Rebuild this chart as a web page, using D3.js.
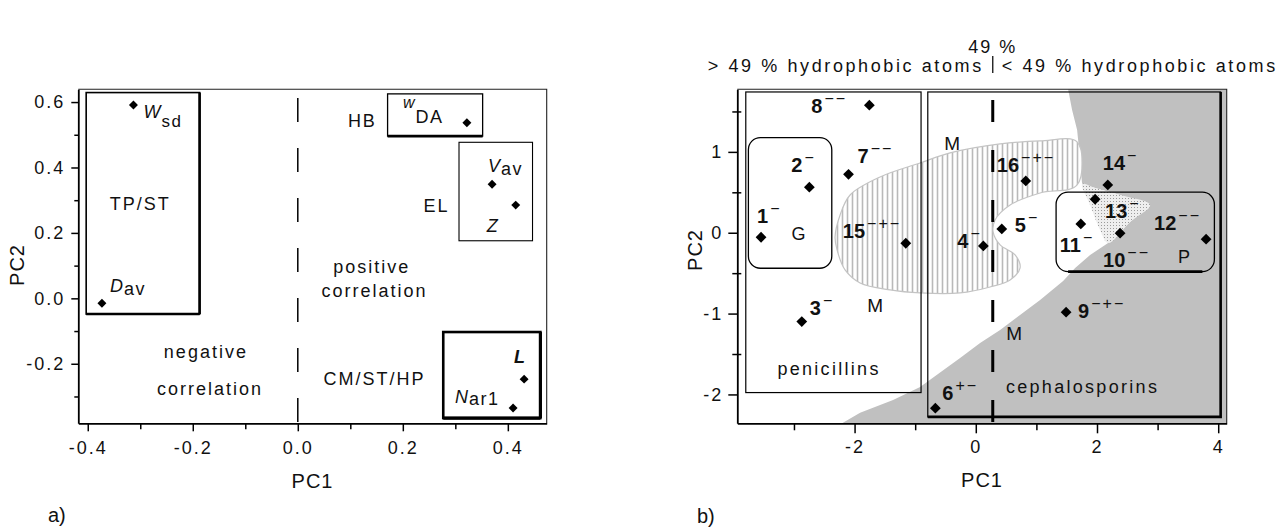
<!DOCTYPE html>
<html>
<head>
<meta charset="utf-8">
<script src="https://cdn.jsdelivr.net/npm/d3@7"></script>
<style>
	body { margin: 0; background: #fff; }
	svg { display: block; }
	text { font-family: "Liberation Sans", Arial, sans-serif; fill: #111; }
</style>
</head>
<body>
<svg id="fig" width="1281" height="528"></svg>
<script>
// ---------- panel a) : loadings ----------
const aNames = ["Wsd", "Dav", "wDA", "Vav", "Z", "L", "Nar1"];
const aMain = ["W", "D", "w", "V", "Z", "L", "N"];
const aSub = ["sd", "av", "DA", "av", "", "", "ar1"];
const aPC1 = [-0.313, -0.373, 0.322, 0.370, 0.415, 0.431, 0.410];
const aPC2 = [0.591, -0.015, 0.537, 0.349, 0.285, -0.247, -0.335];

const aTicksX = [-0.4, -0.2, 0.0, 0.2, 0.4];
const aMinorX = [-0.3, -0.1, 0.1, 0.3];
const aTicksY = [-0.2, 0.0, 0.2, 0.4, 0.6];
const aMinorY = [-0.3, -0.1, 0.1, 0.3, 0.5];

// group boxes (pc1 from/to, pc2 from/to)
const aBoxX0 = [-0.403, 0.171, 0.307, 0.277];
const aBoxX1 = [-0.187, 0.352, 0.447, 0.462];
const aBoxY0 = [-0.048, 0.496, 0.176, -0.366];
const aBoxY1 = [0.629, 0.625, 0.477, -0.103];

const aNotes = ["TP/ST", "HB", "EL", "positive", "correlation", "negative", "correlation", "CM/ST/HP"];
const aNoteX = [-0.300, 0.123, 0.264, 0.141, 0.146, -0.175, -0.167, 0.146];
const aNoteY = [0.270, 0.524, 0.265, 0.077, 0.004, -0.183, -0.296, -0.265];
const aSplit = 0.0;

// ---------- panel b) : scores ----------
const bIds = ["1", "2", "3", "4", "5", "6", "7", "8", "9", "10", "11", "12", "13", "14", "15", "16"];
const bSigns = ["−", "−", "−", "−", "−", "+−", "−−", "−−", "−+−", "−−", "−", "−−", "−", "−", "−+−", "−+−"];
const bPC1 = [-3.543, -2.746, -2.871, 0.125, 0.429, -0.667, -2.10, -1.756, 1.49, 2.381, 1.733, 3.80, 1.969, 2.178, -1.155, 0.825];
const bPC2 = [-0.056, 0.563, -1.099, -0.163, 0.047, -2.170, 0.723, 1.577, -0.983, -0.006, 0.109, -0.08, 0.414, 0.591, -0.130, 0.641];

const bTicksX = [-2, 0, 2, 4];
const bMinorX = [-3, -1, 1, 3];
const bTicksY = [-2, -1, 0, 1];
const bMinorY = [-1.5, -0.5, 0.5, 1.5];
const bSplit = 0.28;   // 49 % hydrophobic atoms

// shaded zones, as [pc1, pc2]
const grayZone = [[1.523, 1.774], [4.14, 1.774], [4.14, -2.357], [-2.206, -2.357], [-1.909, -2.228],
	[-1.365, -2.068], [-0.919, -1.907], [-0.259, -1.548], [0.071, -1.363], [0.401, -1.202],
	[1.061, -0.831], [1.441, -0.596], [1.639, -0.435], [1.886, -0.275], [2.183, -0.126],
	[2.546, 0.134], [2.876, 0.344], [2.381, 0.467], [1.969, 0.554], [1.754, 0.603],
	[1.721, 0.900], [1.672, 1.271], [1.589, 1.519]];
const hatchZone = [[1.672, 1.123], [1.672, 0.591], [1.061, 0.492], [0.566, 0.344], [0.318, 0.158],
	[0.286, 0.010], [0.401, -0.151], [0.649, -0.275], [0.731, -0.435], [0.566, -0.584],
	[0.236, -0.671], [-0.259, -0.745], [-0.919, -0.745], [-1.414, -0.707], [-1.909, -0.621],
	[-2.157, -0.460], [-2.289, -0.213], [-2.322, -0.052], [-2.239, 0.220], [-2.074, 0.467],
	[-1.579, 0.690], [-0.919, 0.863], [-0.424, 0.987], [0.401, 1.098], [1.061, 1.135]];
const dotZone = [[1.754, 0.603], [1.969, 0.554], [2.381, 0.467], [2.876, 0.344], [2.546, 0.134],
	[2.183, -0.126], [2.051, 0.035], [1.886, 0.344]];

// class boxes
const bRectX0 = [-3.795, -0.792], bRectX1 = [-0.903, 4.04];
const bRectY0 = [-1.977, -2.278], bRectY1 = [1.741, 1.741];
const bRoundX0 = [-3.752, 1.325], bRoundX1 = [-2.376, 3.937];
const bRoundY0 = [-0.439, -0.481], bRoundY1 = [1.176, 0.501];

const bNotes = ["G", "P", "M", "M", "M", "penicillins", "cephalosporins"];
const bNoteX = [-2.924, 3.437, -0.391, -1.662, 0.632, -2.421, 1.762];
const bNoteY = [-0.089, -0.373, 1.024, -0.979, -1.326, -1.758, -1.981];

// ---------- layout ----------
const svg = d3.select("#fig");
const FONT = '"Liberation Sans", Arial, sans-serif';

const xa = d3.scaleLinear().domain([-0.418, 0.474]).range([78.3, 546.7]);
const ya = d3.scaleLinear().domain([-0.382, 0.639]).range([423.3, 89.3]);
const xb = d3.scaleLinear().domain([-3.935, 4.14]).range([737.3, 1226.7]);
const yb = d3.scaleLinear().domain([-2.357, 1.774]).range([423.3, 89.3]);

// tick labels use a plain hyphen, as in the original
const hyphen = f => v => f(v).replace("−", "-");

// label offsets in pixels (text start relative to the point)
const aLabOff = { Wsd: [10, 13, 9], Dav: [8, -11, 3], wDA: [-64, -15, 15], Vav: [-4, -12, 3], Z: [-29, 27, 0], L: [-10, -16, 0], Nar1: [-58, -5, 2] };
const bLabOff = { 1: [-4, -14], 2: [-18, -15], 3: [8, -7], 4: [-26, 2], 5: [13, 3], 6: [7, -8], 7: [9, -11], 8: [-58, 8],
	9: [12, 6], 10: [-17, 34], 11: [-21, 28], 12: [-52, -9], 13: [10, 19], 14: [-5, -15], 15: [-63, -5], 16: [-29, -9] };

const defs = svg.append("defs");
const hatch = defs.append("pattern").attr("id", "hatch").attr("patternUnits", "userSpaceOnUse")
	.attr("width", 5).attr("height", 10);
hatch.append("rect").attr("width", 5).attr("height", 10).attr("fill", "#fff");
hatch.append("line").attr("x1", 2.5).attr("x2", 2.5).attr("y1", 0).attr("y2", 10)
	.attr("stroke", "#b9b9b9").attr("stroke-width", 1.6);
const dots = defs.append("pattern").attr("id", "dots").attr("patternUnits", "userSpaceOnUse")
	.attr("width", 3).attr("height", 3);
dots.append("rect").attr("width", 3).attr("height", 3).attr("fill", "#eeeeee");
dots.append("rect").attr("width", 1).attr("height", 1).attr("fill", "#9a9a9a");
defs.append("clipPath").attr("id", "clipB").append("rect")
	.attr("x", xb.range()[0]).attr("y", yb.range()[1])
	.attr("width", xb.range()[1] - xb.range()[0]).attr("height", yb.range()[0] - yb.range()[1]);

function drawAxes(g, x, y, o) {
	const [x0, x1] = x.range(), [y0, y1] = y.range();
	g.append("path").attr("d", `M${x0},${y1}H${x1}V${y0}`)
		.attr("fill", "none").attr("stroke", "#222").attr("stroke-width", 1.1);

	const bottom = g.append("g").attr("transform", `translate(0,${y0})`)
		.call(d3.axisBottom(x).tickValues(o.xt).tickFormat(o.fmt).tickSize(o.xs).tickPadding(o.xp).tickSizeOuter(0));
	const bottomMinor = g.append("g").attr("transform", `translate(0,${y0})`)
		.call(d3.axisBottom(x).tickValues(o.xm).tickFormat("").tickSize(o.xms).tickSizeOuter(0));
	const left = g.append("g").attr("transform", `translate(${x0},0)`)
		.call(d3.axisLeft(y).tickValues(o.yt).tickFormat(o.fmt).tickSize(o.ys).tickPadding(o.yp).tickSizeOuter(0));
	const leftMinor = g.append("g").attr("transform", `translate(${x0},0)`)
		.call(d3.axisLeft(y).tickValues(o.ym).tickFormat("").tickSize(o.yms).tickSizeOuter(0));
	if (o.cross) leftMinor.selectAll(".tick line").attr("x2", -o.yms).attr("x1", o.cross);

	[bottomMinor, leftMinor].forEach(a => a.select(".domain").remove());
	[bottom, left, bottomMinor, leftMinor].forEach(a => {
		a.attr("font-family", FONT).attr("font-size", 18);
		a.selectAll(".domain").attr("stroke", "#000").attr("stroke-width", 1.8);
		a.selectAll(".tick line").attr("stroke", "#000").attr("stroke-width", 1.5);
		a.selectAll(".tick text").attr("fill", "#111").attr("letter-spacing", 2);
	});

	g.append("text").attr("x", (x0 + x1) / 2).attr("y", o.xLabY).attr("text-anchor", "middle")
		.attr("font-size", 20).attr("letter-spacing", 1).text("PC1");
	g.append("text").attr("transform", `translate(${o.yLabX},${o.yLabCY}) rotate(-90)`)
		.attr("text-anchor", "middle").attr("font-size", 20).attr("letter-spacing", 1).text("PC2");
}

function diamond(g, xs, ys, size) {
	g.selectAll("path.pt").data(xs.map((v, i) => [v, ys[i]])).join("path")
		.attr("class", "pt")
		.attr("d", d3.symbol().type(d3.symbolSquare).size(size))
		.attr("transform", d => `translate(${d[0]},${d[1]}) rotate(45)`)
		.attr("fill", "#000");
}

function dashedSplit(g, x, y, v, y0px, width, dash) {
	g.append("line").attr("x1", x(v)).attr("x2", x(v)).attr("y1", y0px).attr("y2", y.range()[0])
		.attr("stroke", "#000").attr("stroke-width", width).attr("stroke-dasharray", dash);
}

// ================= panel a =================
const ga = svg.append("g");

dashedSplit(ga, xa, ya, aSplit, 98, 1.5, "24,26");

// boxes: [stroke, extra bottom, extra right]
const aBoxStyle = [[1.6, 2.6, 2.6], [1.3, 2.8, 0], [1.1, 0, 0], [2.6, 3.2, 3.2]];
aBoxX0.forEach((v, i) => {
	const x0 = xa(v), x1 = xa(aBoxX1[i]), y0 = ya(aBoxY1[i]), y1 = ya(aBoxY0[i]);
	const s = aBoxStyle[i];
	ga.append("rect").attr("x", x0).attr("y", y0).attr("width", x1 - x0).attr("height", y1 - y0)
		.attr("fill", "none").attr("stroke", "#000").attr("stroke-width", s[0]);
	if (s[1]) ga.append("line").attr("x1", x0).attr("x2", x1).attr("y1", y1).attr("y2", y1)
		.attr("stroke", "#000").attr("stroke-width", s[1]);
	if (s[2]) ga.append("line").attr("x1", x1).attr("x2", x1).attr("y1", y0).attr("y2", y1)
		.attr("stroke", "#000").attr("stroke-width", s[2]);
});

drawAxes(ga, xa, ya, {
	xt: aTicksX, xm: aMinorX, yt: aTicksY, ym: aMinorY, fmt: hyphen(d3.format(".1f")),
	xs: 8, xms: 6, xp: 10, ys: 7, yms: 4, yp: 6,
	xLabY: 488, yLabX: 24, yLabCY: 265
});

ga.selectAll("text.note").data(aNotes).join("text").attr("class", "note")
	.attr("x", (d, i) => xa(aNoteX[i])).attr("y", (d, i) => ya(aNoteY[i]))
	.attr("text-anchor", "middle").attr("font-size", 18).attr("letter-spacing", 2).text(d => d);

diamond(ga, aPC1.map(xa), aPC2.map(ya), 40);

aNames.forEach((n, i) => {
	const off = aLabOff[n];
	const t = ga.append("text").attr("x", xa(aPC1[i]) + off[0]).attr("y", ya(aPC2[i]) + off[1]).attr("font-size", 18);
	t.append("tspan").attr("font-style", "italic").attr("font-weight", n === "L" ? "bold" : "normal")
		.attr("font-size", n === "wDA" ? 16 : 18).text(aMain[i]);
	if (aSub[i]) t.append("tspan").attr("dy", off[2]).attr("dx", 1).attr("letter-spacing", 1.5)
		.attr("font-size", n === "Wsd" ? 17 : 18).text(aSub[i]);
});

svg.append("text").attr("x", 48).attr("y", 522).attr("font-size", 20).text("a)");

// ================= panel b =================
const gb = svg.append("g");
const zones = gb.append("g").attr("clip-path", "url(#clipB)");
const zoneLine = d3.line().x(d => xb(d[0])).y(d => yb(d[1]));
const blobLine = d3.line().x(d => xb(d[0])).y(d => yb(d[1])).curve(d3.curveCatmullRomClosed);

zones.append("path").attr("d", zoneLine(grayZone) + "Z").attr("fill", "#c0c0c0");
zones.append("path").attr("d", blobLine(hatchZone))
	.attr("fill", "url(#hatch)").attr("stroke", "#c4c4c4").attr("stroke-width", 1.2);
zones.append("path").attr("d", blobLine(dotZone)).attr("fill", "url(#dots)");

dashedSplit(gb, xb, yb, bSplit, 100, 3, "22,28");

// penicillins / cephalosporins boxes
bRectX0.forEach((v, i) => {
	const x0 = xb(v), x1 = xb(bRectX1[i]), y0 = yb(bRectY1[i]), y1 = yb(bRectY0[i]);
	gb.append("rect").attr("x", x0).attr("y", y0).attr("width", x1 - x0).attr("height", y1 - y0)
		.attr("fill", "none").attr("stroke", "#000").attr("stroke-width", 1.2);
	if (i === 1) {
		gb.append("path").attr("d", `M${x0},${y1}H${x1}V${y0}`)
			.attr("fill", "none").attr("stroke", "#000").attr("stroke-width", 2.6);
	}
});
// G and P rounded boxes
bRoundX0.forEach((v, i) => {
	const x0 = xb(v), x1 = xb(bRoundX1[i]), y0 = yb(bRoundY1[i]), y1 = yb(bRoundY0[i]);
	gb.append("rect").attr("x", x0).attr("y", y0).attr("width", x1 - x0).attr("height", y1 - y0)
		.attr("rx", 12).attr("ry", 12).attr("fill", "none").attr("stroke", "#000").attr("stroke-width", 1.3);
	if (i === 1) gb.append("line").attr("x1", x0 + 12).attr("x2", x1 - 12).attr("y1", y1).attr("y2", y1)
		.attr("stroke", "#000").attr("stroke-width", 2.6);
});

drawAxes(gb, xb, yb, {
	xt: bTicksX, xm: bMinorX, yt: bTicksY, ym: bMinorY, fmt: hyphen(d3.format("d")),
	xs: 10, xms: 7, xp: 7, ys: 9, yms: 5, yp: 5, cross: 4,
	xLabY: 487, yLabX: 702, yLabCY: 250
});

gb.selectAll("text.note").data(bNotes).join("text").attr("class", "note")
	.attr("x", (d, i) => xb(bNoteX[i])).attr("y", (d, i) => yb(bNoteY[i]))
	.attr("text-anchor", "middle").attr("font-size", d => d === "M" ? 19 : 18)
	.attr("letter-spacing", d => d.length > 1 ? 2.3 : 0).text(d => d);

diamond(gb, bPC1.map(xb), bPC2.map(yb), 58);

bIds.forEach((id, i) => {
	const off = bLabOff[id];
	const t = gb.append("text").attr("x", xb(bPC1[i]) + off[0]).attr("y", yb(bPC2[i]) + off[1]);
	t.append("tspan").attr("font-weight", "bold").attr("font-size", 20).text(id);
	t.append("tspan").attr("dx", 2).attr("dy", -9).attr("font-size", 16).attr("letter-spacing", 2).text(bSigns[i]);
});

// header above panel b
const sx = xb(bSplit);
gb.append("text").attr("x", sx).attr("y", 53).attr("text-anchor", "middle")
	.attr("font-size", 18).attr("letter-spacing", 2).text("49 %");
gb.append("text").attr("x", sx - 9).attr("y", 72).attr("text-anchor", "end")
	.attr("font-size", 18).attr("letter-spacing", 2.6).text("> 49 % hydrophobic atoms");
gb.append("text").attr("x", sx + 9).attr("y", 72)
	.attr("font-size", 18).attr("letter-spacing", 2.6).text("< 49 % hydrophobic atoms");
gb.append("line").attr("x1", sx).attr("x2", sx).attr("y1", 56).attr("y2", 73)
	.attr("stroke", "#111").attr("stroke-width", 1.3);

svg.append("text").attr("x", 697).attr("y", 523).attr("font-size", 20).text("b)");
</script>
</body>
</html>
